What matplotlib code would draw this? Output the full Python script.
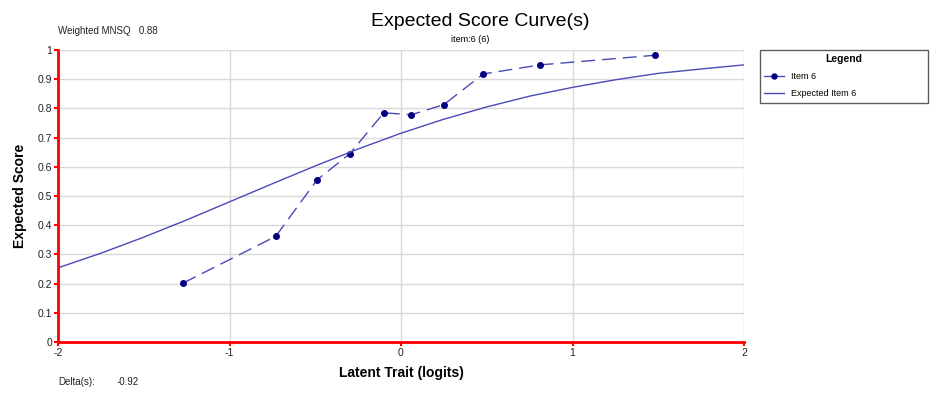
import matplotlib.pyplot as plt

# Observed item scores
obs_x = [-1.27, -0.73, -0.49, -0.30, -0.10, 0.06, 0.25, 0.48, 0.81, 1.48]
obs_y = [0.202, 0.362, 0.555, 0.644, 0.785, 0.778, 0.813, 0.918, 0.949, 0.982]

# Expected curve, read at 0.25 logit steps
exp_x = [-2.0, -1.75, -1.5, -1.25, -1.0, -0.75, -0.5, -0.25, 0.0,
         0.25, 0.5, 0.75, 1.0, 1.25, 1.5, 1.75, 2.0]
exp_y = [0.254, 0.304, 0.359, 0.418, 0.480, 0.542, 0.603, 0.661, 0.715,
         0.763, 0.805, 0.842, 0.872, 0.898, 0.920, 0.935, 0.949]

x_ticks = [-2, -1, 0, 1, 2]
y_ticks = [0, 0.1, 0.2, 0.3, 0.4, 0.5, 0.6, 0.7, 0.8, 0.9, 1]

plt.rcParams['font.family'] = ['Liberation Sans', 'DejaVu Sans']

fig = plt.figure(figsize=(9.45, 3.93), dpi=100)
ax = fig.add_axes([58 / 945, 1 - 342 / 393, 686 / 945, 292 / 393])

ax.plot(obs_x, obs_y, color='#4a4ab8', linewidth=1, dashes=(10, 5),
        marker='o', markersize=4, markerfacecolor='#000080',
        markeredgecolor='#000080', label='Item 6')
ax.plot(exp_x, exp_y, color='#4a4ab8', linewidth=1, label='Expected Item 6')

ax.set_xlim(-2, 2)
ax.set_ylim(0, 1)
ax.set_xticks(x_ticks)
ax.set_xticklabels([str(t) for t in x_ticks])
ax.set_yticks(y_ticks)
ax.set_yticklabels(['0', '0.1', '0.2', '0.3', '0.4', '0.5', '0.6', '0.7', '0.8', '0.9', '1'])
ax.grid(True, color='#d9d9d9', linewidth=1)
ax.set_axisbelow(True)

for s in ['top', 'right']:
    ax.spines[s].set_visible(False)
for s in ['left', 'bottom']:
    ax.spines[s].set_color('red')
    ax.spines[s].set_linewidth(2)
ax.tick_params(axis='both', colors='red', labelcolor='#222222', length=3,
               width=1.5, labelsize=7.5, pad=1)

ax.set_xlabel('Latent Trait (logits)', fontsize=10, fontweight='bold', labelpad=6)
ax.set_ylabel('Expected Score', fontsize=10, fontweight='bold', labelpad=8)

fig.text(480 / 945, 1 - 21 / 393, 'Expected Score Curve(s)', fontsize=14,
         ha='center', va='center')
fig.text(470 / 945, 1 - 40 / 393, 'item:6 (6)', fontsize=6.5,
         ha='center', va='center')
fig.text(58 / 945, 1 - 31 / 393, 'Weighted MNSQ   0.88', fontsize=7,
         ha='left', va='center', color='#222222')
fig.text(58 / 945, 1 - 382 / 393, 'Delta(s):', fontsize=7,
         ha='left', va='center', color='#222222')
fig.text(117 / 945, 1 - 382 / 393, '-0.92', fontsize=7,
         ha='left', va='center', color='#222222')

leg = fig.legend(loc='upper left',
                 bbox_to_anchor=(755 / 945, 1 - 101 / 393, 178 / 945, 56 / 393),
                 mode='expand', title='Legend', fontsize=6.5, frameon=True,
                 fancybox=False, edgecolor='#333333', handlelength=2.2,
                 borderpad=0.5, labelspacing=0.9, markerscale=0.9,
                 alignment='center')
leg.get_title().set_fontweight('bold')
leg.get_title().set_fontsize(7.5)
leg.get_frame().set_linewidth(1)
for h in leg.legend_handles:
    h.set_linestyle('-')

fig.savefig('out.png', dpi=100)
